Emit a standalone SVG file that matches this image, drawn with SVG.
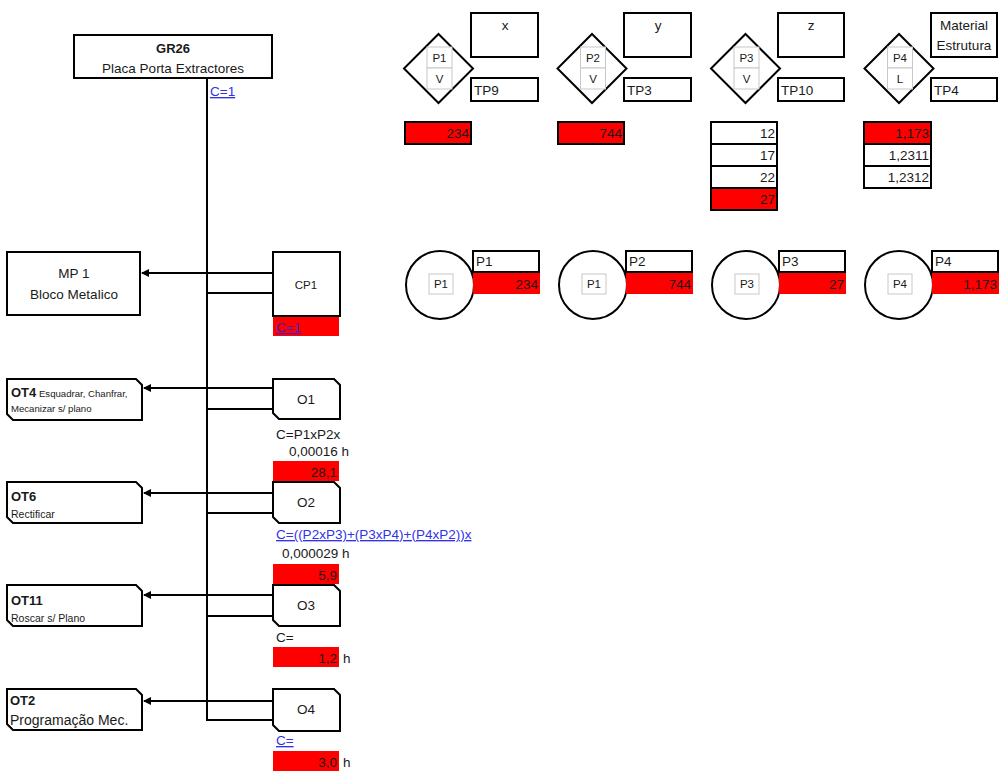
<svg xmlns="http://www.w3.org/2000/svg" width="999" height="771" viewBox="0 0 999 771">
  <style>
    text { font-family: "Liberation Sans", Arial, sans-serif; fill: #1a1a1a; }
    .box { fill: #fff; stroke: #000; stroke-width: 2; }
    .thin { fill: #fff; stroke: #c8c8c8; stroke-width: 1; }
    .red { fill: #ff0000; }
    .redb { fill: #ff0000; stroke: #000; stroke-width: 2; }
    .cell { fill: #fff; stroke: #000; stroke-width: 2; }
    .line { stroke: #000; stroke-width: 2; fill: none; }
    .t12 { font-size: 13.5px; }
    .t11 { font-size: 11.5px; }
    .tb { font-size: 13px; font-weight: bold; }
    .sm { font-size: 9.6px; }
    .sm2 { font-size: 10.5px; }
    .big { font-size: 14px; }
    .b { font-weight: bold; }
    .mid { text-anchor: middle; }
    .end { text-anchor: end; }
    .link { fill: #3232e6; text-decoration: underline; }
    .link2 { fill: #4a1fb8; text-decoration: underline; }
  </style>
  <defs>
    <marker id="arr" markerWidth="8" markerHeight="8" refX="7" refY="4" orient="auto" markerUnits="userSpaceOnUse">
      <path d="M0,0 L8,4 L0,8 Z" fill="#000"/>
    </marker>
  </defs>

  <!-- connectors -->
  <g id="connectors">
    <line class="line" x1="207" y1="78" x2="207" y2="721"/>
    <line class="line" x1="273" y1="273" x2="142" y2="273" marker-end="url(#arr)"/>
    <line class="line" x1="207" y1="293" x2="273" y2="293"/>
    <line class="line" x1="273" y1="388" x2="144" y2="388" marker-end="url(#arr)"/>
    <line class="line" x1="207" y1="409" x2="273" y2="409"/>
    <line class="line" x1="273" y1="493" x2="144" y2="493" marker-end="url(#arr)"/>
    <line class="line" x1="207" y1="513" x2="273" y2="513"/>
    <line class="line" x1="273" y1="595" x2="144" y2="595" marker-end="url(#arr)"/>
    <line class="line" x1="207" y1="616" x2="273" y2="616"/>
    <line class="line" x1="273" y1="701" x2="144" y2="701" marker-end="url(#arr)"/>
    <line class="line" x1="207" y1="720" x2="273" y2="720"/>
  </g>

  <!-- root assembly -->
  <g id="GR26">
    <rect class="box" x="74" y="35" width="198" height="43"/>
    <text class="tb mid" x="173" y="53">GR26</text>
    <text class="t12 mid" x="173" y="73">Placa Porta Extractores</text>
    <text class="t12 link" x="210" y="96">C=1</text>
  </g>

  <!-- raw material -->
  <g id="MP1">
    <rect class="box" x="7" y="252" width="133" height="63"/>
    <text class="t12 mid" x="74" y="278">MP 1</text>
    <text class="t12 mid" x="74" y="299">Bloco Metalico</text>
  </g>
  <g id="CP1">
    <rect class="box" x="273" y="252" width="67" height="64"/>
    <text class="t11 mid" x="306" y="289">CP1</text>
    <rect class="red" x="273" y="317" width="66" height="19"/>
    <text class="t12 link2" x="276" y="332">C=1</text>
  </g>

  <!-- operations -->
  <g id="OT4">
    <path class="box" d="M7,379 H136 L142,385 V420 H13 L7,414 Z"/>
    <text x="11" y="397"><tspan class="tb">OT4</tspan><tspan class="sm"> Esquadrar, Chanfrar,</tspan></text>
    <text class="sm" x="11" y="412">Mecanizar s/ plano</text>
  </g>
  <g id="O1">
    <path class="box" d="M273,379 H334 L340,385 V419 H279 L273,413 Z"/>
    <text class="t12 mid" x="306" y="404">O1</text>
    <text class="t12" x="276" y="439">C=P1xP2x</text>
    <text class="t12" x="289" y="456">0,00016  h</text>
    <rect class="red" x="273" y="461" width="66" height="20"/>
    <text class="t12 end" x="337" y="477">28,1</text>
  </g>

  <g id="OT6">
    <path class="box" d="M7,482 H136 L142,488 V523 H13 L7,517 Z"/>
    <text class="tb" x="11" y="501">OT6</text>
    <text class="sm2" x="11" y="518">Rectificar</text>
  </g>
  <g id="O2">
    <path class="box" d="M273,482 H334 L340,488 V523 H279 L273,517 Z"/>
    <text class="t12 mid" x="306" y="507">O2</text>
    <text class="t12 link" x="276" y="539">C=((P2xP3)+(P3xP4)+(P4xP2))x</text>
    <text class="t12" x="282" y="558">0,000029  h</text>
    <rect class="red" x="273" y="564" width="66" height="20"/>
    <text class="t12 end" x="337" y="580">5,9</text>
  </g>

  <g id="OT11">
    <path class="box" d="M7,585 H136 L142,591 V626 H13 L7,620 Z"/>
    <text class="tb" x="11" y="605">OT11</text>
    <text class="sm2" x="11" y="622">Roscar s/ Plano</text>
  </g>
  <g id="O3">
    <path class="box" d="M273,585 H334 L340,591 V626 H279 L273,620 Z"/>
    <text class="t12 mid" x="306" y="610">O3</text>
    <text class="t12" x="276" y="642">C=</text>
    <rect class="red" x="273" y="647" width="66" height="20"/>
    <text class="t12 end" x="337" y="663">1,2</text>
    <text class="t12" x="343" y="663">h</text>
  </g>

  <g id="OT2">
    <path class="box" d="M7,689 H136 L142,695 V730 H13 L7,724 Z"/>
    <text class="tb" x="10" y="705">OT2</text>
    <text class="big" x="10" y="725">Programação Mec.</text>
  </g>
  <g id="O4">
    <path class="box" d="M273,689 H334 L340,695 V731 H279 L273,725 Z"/>
    <text class="t12 mid" x="306" y="714">O4</text>
    <text class="t12 link" x="276" y="745">C=</text>
    <rect class="red" x="273" y="751" width="66" height="20"/>
    <text class="t12 end" x="337" y="767">3,0</text>
    <text class="t12" x="343" y="767">h</text>
  </g>

  <!-- parameter P1 -->
  <g id="param-P1">
    <path class="box" d="M438.5,34 L473,68.5 L438.5,103 L404,68.5 Z"/>
    <rect class="thin" x="427" y="47" width="25" height="21"/>
    <rect class="thin" x="427" y="68" width="25" height="21"/>
    <text class="t11 mid" x="439.5" y="62">P1</text>
    <text class="t11 mid" x="439.5" y="83">V</text>
    <rect class="box" x="471" y="13" width="67" height="44"/>
    <text class="t12 mid" x="505" y="30">x</text>
    <rect class="box" x="471" y="78" width="67" height="23"/>
    <text class="t12" x="474" y="95">TP9</text>
    <rect class="redb" x="405" y="122" width="66" height="22"/>
    <text class="t12 end" x="469" y="138">234</text>
  </g>

  <!-- parameter P2 -->
  <g id="param-P2">
    <path class="box" d="M592,34 L626.5,68.5 L592,103 L557.5,68.5 Z"/>
    <rect class="thin" x="580.5" y="47" width="25" height="21"/>
    <rect class="thin" x="580.5" y="68" width="25" height="21"/>
    <text class="t11 mid" x="593" y="62">P2</text>
    <text class="t11 mid" x="593" y="83">V</text>
    <rect class="box" x="624" y="13" width="67" height="44"/>
    <text class="t12 mid" x="658" y="30">y</text>
    <rect class="box" x="624" y="78" width="67" height="23"/>
    <text class="t12" x="627" y="95">TP3</text>
    <rect class="redb" x="558" y="122" width="66" height="22"/>
    <text class="t12 end" x="622" y="138">744</text>
  </g>

  <!-- parameter P3 -->
  <g id="param-P3">
    <path class="box" d="M745.5,34 L780,68.5 L745.5,103 L711,68.5 Z"/>
    <rect class="thin" x="734" y="47" width="25" height="21"/>
    <rect class="thin" x="734" y="68" width="25" height="21"/>
    <text class="t11 mid" x="746.5" y="62">P3</text>
    <text class="t11 mid" x="746.5" y="83">V</text>
    <rect class="box" x="778" y="13" width="66" height="44"/>
    <text class="t12 mid" x="811" y="30">z</text>
    <rect class="box" x="778" y="78" width="66" height="23"/>
    <text class="t12" x="781" y="95">TP10</text>
    <rect class="cell" x="711" y="122" width="66" height="22"/>
    <text class="t12 end" x="775" y="138">12</text>
    <rect class="cell" x="711" y="144" width="66" height="22"/>
    <text class="t12 end" x="775" y="160">17</text>
    <rect class="cell" x="711" y="166" width="66" height="22"/>
    <text class="t12 end" x="775" y="182">22</text>
    <rect class="redb" x="711" y="188" width="66" height="22"/>
    <text class="t12 end" x="775" y="204">27</text>
  </g>

  <!-- parameter P4 -->
  <g id="param-P4">
    <path class="box" d="M899,34 L933.5,68.5 L899,103 L864.5,68.5 Z"/>
    <rect class="thin" x="887.5" y="47" width="25" height="21"/>
    <rect class="thin" x="887.5" y="68" width="25" height="21"/>
    <text class="t11 mid" x="900" y="62">P4</text>
    <text class="t11 mid" x="900" y="83">L</text>
    <rect class="box" x="931" y="13" width="66" height="44"/>
    <text class="t12 mid" x="964" y="30">Material</text>
    <text class="t12 mid" x="964" y="50">Estrutura</text>
    <rect class="box" x="931" y="78" width="66" height="23"/>
    <text class="t12" x="934" y="95">TP4</text>
    <rect class="redb" x="864" y="122" width="67" height="22"/>
    <text class="t12 end" x="929" y="138">1,173</text>
    <rect class="cell" x="864" y="144" width="67" height="22"/>
    <text class="t12 end" x="929" y="160">1,2311</text>
    <rect class="cell" x="864" y="166" width="67" height="22"/>
    <text class="t12 end" x="929" y="182">1,2312</text>
  </g>

  <!-- selected values -->
  <g id="value-P1">
    <circle class="box" cx="440" cy="285" r="34"/>
    <rect class="thin" x="429" y="274" width="24" height="20"/>
    <text class="t11 mid" x="441" y="288">P1</text>
    <rect class="box" x="473" y="251" width="66" height="21"/>
    <text class="t12" x="476" y="266">P1</text>
    <rect class="red" x="473" y="273" width="67" height="21"/>
    <text class="t12 end" x="538" y="289">234</text>
  </g>
  <g id="value-P2">
    <circle class="box" cx="593" cy="285" r="34"/>
    <rect class="thin" x="582" y="274" width="24" height="20"/>
    <text class="t11 mid" x="594" y="288">P1</text>
    <rect class="box" x="626" y="251" width="66" height="21"/>
    <text class="t12" x="629" y="266">P2</text>
    <rect class="red" x="626" y="273" width="67" height="21"/>
    <text class="t12 end" x="691" y="289">744</text>
  </g>
  <g id="value-P3">
    <circle class="box" cx="746" cy="285" r="34"/>
    <rect class="thin" x="735" y="274" width="24" height="20"/>
    <text class="t11 mid" x="747" y="288">P3</text>
    <rect class="box" x="779" y="251" width="66" height="21"/>
    <text class="t12" x="782" y="266">P3</text>
    <rect class="red" x="779" y="273" width="67" height="21"/>
    <text class="t12 end" x="844" y="289">27</text>
  </g>
  <g id="value-P4">
    <circle class="box" cx="899" cy="285" r="34"/>
    <rect class="thin" x="888" y="274" width="24" height="20"/>
    <text class="t11 mid" x="900" y="288">P4</text>
    <rect class="box" x="932" y="251" width="66" height="21"/>
    <text class="t12" x="935" y="266">P4</text>
    <rect class="red" x="932" y="273" width="67" height="21"/>
    <text class="t12 end" x="997" y="289">1,173</text>
  </g>
</svg>
